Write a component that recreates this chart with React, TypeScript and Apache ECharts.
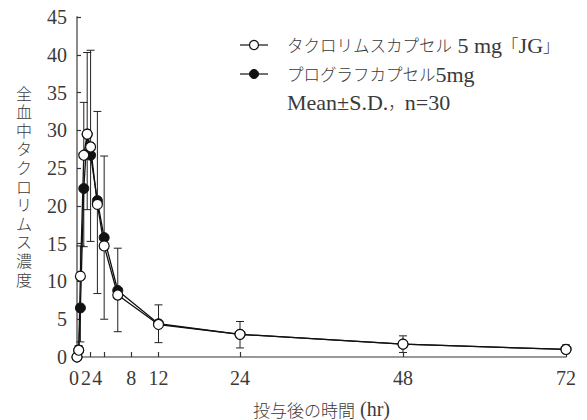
import React, { useEffect, useRef } from 'react';
import * as echarts from 'echarts';

// ---- data ----
const TIMES = [0, 0.25, 0.5, 1, 1.5, 2, 3, 4, 6, 12, 24, 48, 72];
const JG_MEAN = [0, 0.9, 10.7, 26.7, 29.5, 27.8, 20.2, 14.7, 8.2, 4.3, 3.0, 1.7, 1.0];
const JG_SD = [0, 0.6, 4.0, 7.0, 10.8, 12.8, 12.3, 11.9, 6.2, 2.6, 1.7, 1.1, 0.6];
const PG_MEAN = [0, 0.9, 6.5, 22.3, 29.5, 26.7, 20.7, 15.8, 8.8, 4.4, 3.0, 1.7, 1.0];
const PG_SD = [0, 0.5, 4.5, 7.7, 10.0, 11.4, 12.3, 10.8, 5.45, 2.5, 1.8, 1.1, 0.5];
const X_TICKS = [2, 4, 8, 12, 24, 48, 72];
const X_LABELS = [0, 2, 4, 8, 12, 24, 48, 72];
const Y_MAX = 45;
const Y_STEP = 5;

const JG_NAME = 'タクロリムスカプセル 5 mg「JG」';
const PG_NAME = 'プログラフカプセル5mg';
const Y_NAME = '全血中タクロリムス濃度';
const X_NAME_JA = '投与後の時間';
const X_NAME_UNIT = ' (hr)';

const SERIF = "'Liberation Serif', 'Noto Sans CJK JP', serif";
const CJK = "'Noto Sans CJK JP', 'Liberation Serif', sans-serif";
const TEXT = '#3a3a3a';
const INK = '#111';

export default function App() {
  const ref = useRef<HTMLDivElement>(null);
  useEffect(() => {
    const chart = echarts.init(ref.current as HTMLDivElement, null, { renderer: 'svg' });

    const errSeries = (name: string, means: number[], sds: number[], dir: number) => ({
      type: 'custom',
      name,
      z: 1,
      silent: true,
      data: TIMES.map((t, i) => [t, means[i], sds[i]]),
      encode: { x: 0, y: 1 },
      renderItem: (_p: any, api: any) => {
        const t = api.value(0);
        const m = api.value(1);
        const s = api.value(2);
        if (!s) return { type: 'group', children: [] };
        const p0 = api.coord([t, m]);
        const p1 = api.coord([t, m + dir * s]);
        const style = { stroke: '#222', lineWidth: 1 };
        return {
          type: 'group',
          children: [
            { type: 'line', shape: { x1: p0[0], y1: p0[1], x2: p1[0], y2: p1[1] }, style },
            { type: 'line', shape: { x1: p1[0] - 4, y1: p1[1], x2: p1[0] + 4, y2: p1[1] }, style },
          ],
        };
      },
    });

    const labelShift: Record<number, number> = { 0: 6, 2: 9, 4: 14 };
    const rich: Record<string, any> = {
      n: { fontSize: 20, fontFamily: SERIF, color: TEXT },
    };
    Object.keys(labelShift).forEach((k) => {
      rich['s' + k] = {
        fontSize: 20,
        fontFamily: SERIF,
        color: TEXT,
        padding: [0, labelShift[Number(k)], 0, 0],
      };
    });

    const legendRich = {
      k: { fontSize: 16.5, fontFamily: CJK, fontWeight: 300, fill: TEXT, color: TEXT },
      l: { fontSize: 22, fontFamily: SERIF, fill: TEXT, color: TEXT },
    };

    const yTitle = Y_NAME.split('').map((ch, i, arr) => ({
      type: 'text',
      x: 24,
      y: 187 + (i - (arr.length - 1) / 2) * 18.6,
      style: {
        text: ch,
        fontSize: 16,
        fontFamily: SERIF,
        fontWeight: 300,
        lineHeight: 18,
        align: 'center',
        verticalAlign: 'middle',
        fill: TEXT,
      },
    }));

    chart.setOption({
      animation: false,
      backgroundColor: '#fff',
      grid: { left: 77, right: 21, top: 17, bottom: 63, containLabel: false, outerBoundsMode: 'none' },
      xAxis: {
        type: 'value',
        min: 0,
        max: 72,
        name: `{k|${X_NAME_JA}}{l|${X_NAME_UNIT}}`,
        nameLocation: 'middle',
        nameGap: 42,
        nameTextStyle: {
          color: TEXT,
          rich: {
            k: { fontSize: 17, fontFamily: CJK, fontWeight: 300, color: TEXT },
            l: { fontSize: 20, fontFamily: SERIF, color: TEXT },
          },
        },
        axisLine: { show: true, onZero: false, lineStyle: { color: '#777', width: 1.5 } },
        axisTick: {
          show: true,
          inside: true,
          length: 5,
          customValues: X_TICKS,
          lineStyle: { color: '#333', width: 1.2 },
        },
        axisLabel: {
          show: true,
          customValues: X_LABELS,
          margin: 11,
          fontSize: 20,
          fontFamily: SERIF,
          color: TEXT,
          formatter: (v: number) => (labelShift[v] !== undefined ? `{s${v}|${v}}` : `{n|${v}}`),
          rich,
        },
        splitLine: { show: false },
      },
      yAxis: {
        type: 'value',
        min: 0,
        max: Y_MAX,
        interval: Y_STEP,
        axisLine: { show: true, lineStyle: { color: '#8a8a8a', width: 2 } },
        axisTick: { show: true, inside: true, length: 4, lineStyle: { color: '#333', width: 1.2 } },
        axisLabel: { fontSize: 20, fontFamily: SERIF, color: TEXT, margin: 10 },
        splitLine: { show: false },
      },
      series: [
        errSeries('err-pg', PG_MEAN, PG_SD, -1),
        errSeries('err-jg', JG_MEAN, JG_SD, 1),
        {
          type: 'line',
          name: PG_NAME,
          z: 2,
          data: TIMES.map((t, i) => [t, PG_MEAN[i]]),
          symbol: 'circle',
          symbolSize: 10,
          showSymbol: true,
          lineStyle: { color: INK, width: 1.3 },
          itemStyle: { color: INK, borderColor: INK, borderWidth: 1 },
        },
        {
          type: 'line',
          name: JG_NAME,
          z: 3,
          data: TIMES.map((t, i) => [t, JG_MEAN[i]]),
          symbol: 'circle',
          symbolSize: 10,
          showSymbol: true,
          lineStyle: { color: INK, width: 1.3 },
          itemStyle: { color: '#fff', borderColor: INK, borderWidth: 1.2 },
        },
      ],
      graphic: [
        // legend row 1
        { type: 'line', shape: { x1: 240, y1: 45, x2: 268, y2: 45 }, style: { stroke: INK, lineWidth: 1.2 } },
        { type: 'circle', shape: { cx: 254, cy: 45, r: 4.5 }, style: { fill: '#fff', stroke: INK, lineWidth: 1.2 } },
        {
          type: 'text',
          x: 287,
          y: 45,
          style: {
            text: '{k|タクロリムスカプセル}{l| 5 mg}{k|「}{l|JG}{k|」}',
            rich: legendRich,
            verticalAlign: 'middle',
            fill: TEXT,
          },
        },
        // legend row 2
        { type: 'line', shape: { x1: 240, y1: 74, x2: 268, y2: 74 }, style: { stroke: INK, lineWidth: 1.2 } },
        { type: 'circle', shape: { cx: 254, cy: 74, r: 4.5 }, style: { fill: INK, stroke: INK, lineWidth: 1 } },
        {
          type: 'text',
          x: 287,
          y: 74,
          style: {
            text: '{k|プログラフカプセル}{l|5mg}',
            rich: legendRich,
            verticalAlign: 'middle',
            fill: TEXT,
          },
        },
        // legend row 3
        {
          type: 'text',
          x: 287,
          y: 102,
          style: {
            text: '{l|Mean±S.D.}{k|，}{l|n=30}',
            rich: legendRich,
            verticalAlign: 'middle',
            fill: TEXT,
          },
        },
        // vertical y-axis title
        ...yTitle,
      ],
    });

    return () => chart.dispose();
  }, []);

  return (
    <div
      ref={ref}
      style={{ position: 'fixed', left: 0, top: 0, width: 587, height: 420, background: '#fff' }}
    />
  );
}
